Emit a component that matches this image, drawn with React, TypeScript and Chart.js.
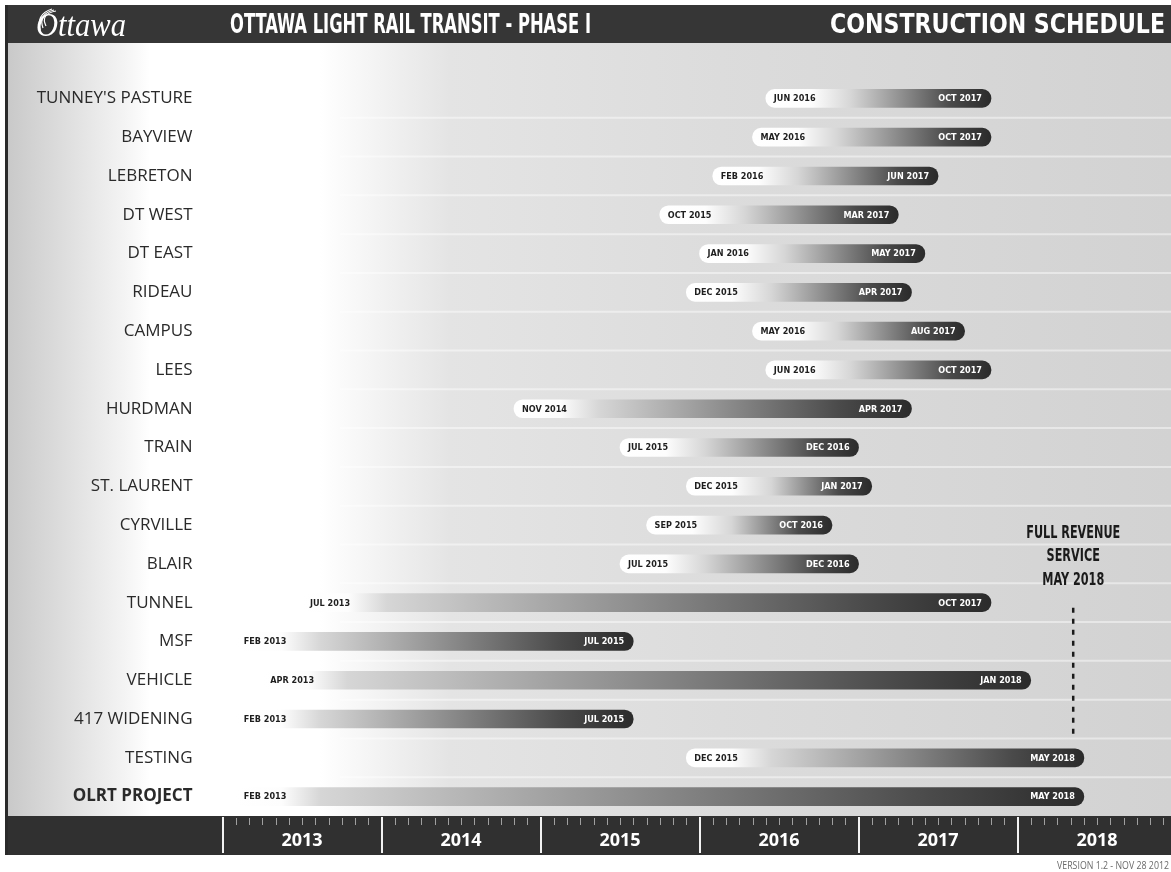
import React, { useEffect, useRef } from "react";
import { Chart, registerables } from "chart.js";

Chart.register(...registerables);

const CATEGORIES = [
  "TUNNEY'S PASTURE", "BAYVIEW", "LEBRETON", "DT WEST", "DT EAST", "RIDEAU", "CAMPUS", "LEES",
  "HURDMAN", "TRAIN", "ST. LAURENT", "CYRVILLE", "BLAIR", "TUNNEL", "MSF", "VEHICLE",
  "417 WIDENING", "TESTING", "OLRT PROJECT",
];
const START_LABELS = [
  "JUN 2016", "MAY 2016", "FEB 2016", "OCT 2015", "JAN 2016", "DEC 2015", "MAY 2016", "JUN 2016",
  "NOV 2014", "JUL 2015", "DEC 2015", "SEP 2015", "JUL 2015", "JUL 2013", "FEB 2013", "APR 2013",
  "FEB 2013", "DEC 2015", "FEB 2013",
];
const END_LABELS = [
  "OCT 2017", "OCT 2017", "JUN 2017", "MAR 2017", "MAY 2017", "APR 2017", "AUG 2017", "OCT 2017",
  "APR 2017", "DEC 2016", "JAN 2017", "OCT 2016", "DEC 2016", "OCT 2017", "JUL 2015", "JAN 2018",
  "JUL 2015", "MAY 2018", "MAY 2018",
];
// start of start month / end of end month, in decimal years
const START_VALUES = [
  2016.417, 2016.333, 2016.083, 2015.75, 2016.0, 2015.917, 2016.333, 2016.417,
  2014.833, 2015.5, 2015.917, 2015.667, 2015.5, 2013.5, 2013.083, 2013.25,
  2013.083, 2015.917, 2013.083,
];
const END_VALUES = [
  2017.833, 2017.833, 2017.5, 2017.25, 2017.417, 2017.333, 2017.667, 2017.833,
  2017.333, 2017.0, 2017.083, 2016.833, 2017.0, 2017.833, 2015.583, 2018.083,
  2015.583, 2018.417, 2018.417,
];
const YEARS = [2013, 2014, 2015, 2016, 2017, 2018];
const X_MIN = 2013;
const X_MAX = 2018.965;
const MILESTONE_VALUE = 2018.35;
const MILESTONE_LINES = ["FULL REVENUE", "SERVICE", "MAY 2018"];
const LOGO_TEXT = "Ottawa";
const TITLE_LEFT = "OTTAWA LIGHT RAIL TRANSIT - PHASE I";
const TITLE_RIGHT = "CONSTRUCTION SCHEDULE";
const VERSION_TEXT = "VERSION 1.2 - NOV 28 2012";

const NARROW = '"Liberation Sans Narrow", "Arial Narrow", "DejaVu Sans Condensed", sans-serif';

function fitText(ctx: CanvasRenderingContext2D, text: string, x: number, y: number, width: number, align: CanvasTextAlign) {
  const w = ctx.measureText(text).width || 1;
  const s = width / w;
  ctx.save();
  ctx.translate(x, y);
  ctx.scale(s, 1);
  ctx.textAlign = align;
  ctx.fillText(text, 0, 0);
  ctx.restore();
}

const decorPlugin = {
  id: "decor",
  beforeDraw(chart: any) {
    const { ctx, width, height, chartArea: ca, scales } = chart;
    const xs = scales.x;
    ctx.save();
    ctx.fillStyle = "#ffffff";
    ctx.fillRect(0, 0, width, height);

    // body background
    const top = 43;
    const g = ctx.createLinearGradient(5, 0, width, 0);
    const stop = (px: number, c: string) => g.addColorStop(Math.min(1, Math.max(0, (px - 5) / (width - 5))), c);
    stop(5, "#c8c8c8");
    stop(60, "#dcdcdc");
    stop(125, "#f4f4f4");
    stop(150, "#ffffff");
    stop(320, "#ffffff");
    stop(450, "#e4e4e4");
    stop(720, "#dcdcdc");
    stop(width, "#d2d2d2");
    ctx.fillStyle = g;
    ctx.fillRect(5, top, width - 5, ca.bottom - top);

    // faint row separators
    const n = CATEGORIES.length;
    const band = (ca.bottom - ca.top) / n;
    ctx.strokeStyle = "rgba(255,255,255,0.45)";
    ctx.lineWidth = 2;
    for (let i = 1; i < n; i++) {
      const y = ca.top + i * band;
      ctx.beginPath();
      ctx.moveTo(340, y);
      ctx.lineTo(width, y);
      ctx.stroke();
    }

    // header band
    ctx.fillStyle = "#363636";
    ctx.fillRect(5, 5, width - 5, 38);

    // footer band
    const fTop = ca.bottom;
    const fH = 39;
    ctx.fillStyle = "#303030";
    ctx.fillRect(5, fTop, width - 5, fH);

    // left frame
    ctx.fillStyle = "#2a2a2a";
    ctx.fillRect(5, 5, 3, fTop + fH - 5);

    // month ticks
    ctx.strokeStyle = "rgba(235,235,235,0.6)";
    ctx.lineWidth = 1;
    YEARS.forEach((yr) => {
      for (let m = 1; m < 12; m++) {
        const x = Math.round(xs.getPixelForValue(yr + m / 12)) + 0.5;
        if (x > width) continue;
        ctx.beginPath();
        ctx.moveTo(x, fTop + 2);
        ctx.lineTo(x, fTop + 9);
        ctx.stroke();
      }
    });
    // year separators
    ctx.strokeStyle = "#f2f2f2";
    ctx.lineWidth = 2;
    YEARS.forEach((yr) => {
      const x = Math.round(xs.getPixelForValue(yr));
      ctx.beginPath();
      ctx.moveTo(x, fTop + 1);
      ctx.lineTo(x, fTop + fH - 2);
      ctx.stroke();
    });
    ctx.restore();
  },
  afterDatasetsDraw(chart: any) {
    const { ctx, scales } = chart;
    const meta = chart.getDatasetMeta(0);
    ctx.save();
    ctx.textBaseline = "middle";
    ctx.font = `bold 9px ${NARROW}`;
    meta.data.forEach((bar: any, i: number) => {
      const p = bar.getProps(["x", "base", "y"], true);
      const left = Math.min(p.x, p.base);
      const right = Math.max(p.x, p.base);
      ctx.fillStyle = "#1e1e1e";
      ctx.textAlign = "left";
      ctx.fillText(START_LABELS[i], left + 8, p.y + 0.5);
      ctx.fillStyle = "#ffffff";
      ctx.textAlign = "right";
      ctx.fillText(END_LABELS[i], right - 9, p.y + 0.5);
    });

    // milestone
    const xs = scales.x;
    const ys = scales.y;
    const mx = xs.getPixelForValue(MILESTONE_VALUE);
    const ty = ys.getPixelForValue(13);
    const by = ys.getPixelForValue(17);
    ctx.fillStyle = "#1a1a1a";
    ctx.textBaseline = "middle";
    ctx.font = `bold 17px ${NARROW}`;
    const w0 = ctx.measureText(MILESTONE_LINES[0]).width || 1;
    const sc = 94 / w0;
    const offs = [-69, -46, -22];
    MILESTONE_LINES.forEach((t, k) => {
      const w = ctx.measureText(t).width * sc;
      fitText(ctx, t, mx, ty + offs[k], w, "center");
    });
    ctx.strokeStyle = "#1a1a1a";
    ctx.lineWidth = 2.5;
    ctx.setLineDash([5, 6]);
    ctx.beginPath();
    ctx.moveTo(mx, ty + 5);
    ctx.lineTo(mx, by - 21);
    ctx.stroke();
    ctx.setLineDash([]);
    ctx.restore();
  },
  afterDraw(chart: any) {
    const { ctx, width, chartArea: ca } = chart;
    ctx.save();
    ctx.fillStyle = "#ffffff";
    ctx.textBaseline = "alphabetic";
    // logo
    ctx.font = 'italic 33px "Liberation Serif", "DejaVu Serif", serif';
    fitText(ctx, LOGO_TEXT, 36, 36, 90, "left");
    ctx.strokeStyle = "#ffffff";
    ctx.lineWidth = 1.2;
    for (let k = 0; k < 3; k++) {
      ctx.beginPath();
      ctx.moveTo(40 + k * 3, 30 - k * 2);
      ctx.quadraticCurveTo(36 + k * 2, 14, 52 + k * 2, 9 + k);
      ctx.stroke();
    }
    // titles
    ctx.font = `bold 26px ${NARROW}`;
    fitText(ctx, TITLE_LEFT, 230, 33, 361, "left");
    fitText(ctx, TITLE_RIGHT, 1165, 33, 335, "right");
    // version
    ctx.fillStyle = "#6a6a6a";
    ctx.font = '10px "Open Sans", sans-serif';
    fitText(ctx, VERSION_TEXT, width - 2, ca.bottom + 53, 112, "right");
    ctx.restore();
  },
};

export default function App() {
  const ref = useRef<HTMLCanvasElement | null>(null);
  useEffect(() => {
    document.body.style.margin = "0";
    const canvas = ref.current;
    if (!canvas) return;
    const barData = START_VALUES.map((s, i) => [s, END_VALUES[i]]);
    const chart = new Chart(canvas, {
      type: "bar",
      data: {
        labels: CATEGORIES,
        datasets: [
          {
            data: barData as any,
            barThickness: 18,
            borderRadius: 9,
            borderSkipped: false,
            backgroundColor: (c: any) => {
              const ch = c.chart;
              const xs = ch.scales && ch.scales.x;
              if (!xs || c.dataIndex == null) return "#888";
              const s = xs.getPixelForValue(START_VALUES[c.dataIndex]);
              const e = xs.getPixelForValue(END_VALUES[c.dataIndex]);
              if (!isFinite(s) || !isFinite(e)) return "#888";
              const len = Math.max(1, e - s);
              const g = ch.ctx.createLinearGradient(s, 0, e, 0);
              const f = (px: number) => Math.min(0.7, px / len);
              g.addColorStop(0, "#ffffff");
              g.addColorStop(f(46), "#fdfdfd");
              g.addColorStop(f(85), "#d6d6d6");
              g.addColorStop(0.82, "#4a4a4a");
              g.addColorStop(1, "#2b2b2b");
              return g;
            },
          },
        ],
      },
      options: {
        indexAxis: "y",
        responsive: false,
        animation: false,
        devicePixelRatio: 1,
        layout: { padding: { top: 79, left: 5, right: 0, bottom: 6.4 } },
        plugins: { legend: { display: false }, tooltip: { enabled: false }, title: { display: false } },
        scales: {
          x: {
            type: "linear",
            position: "bottom",
            min: X_MIN,
            max: X_MAX,
            grid: { display: false, drawTicks: false },
            border: { display: false },
            afterBuildTicks: (scale: any) => {
              scale.ticks = YEARS.map((y) => ({ value: y + 0.5 }));
            },
            ticks: {
              padding: 14,
              color: "#ffffff",
              font: { family: '"Open Sans", sans-serif', size: 18, weight: "bold" },
              callback: (v: any) => String(Math.floor(Number(v))),
              maxRotation: 0,
              autoSkip: false,
            },
          },
          y: {
            type: "category",
            position: "left",
            grid: { display: false, drawTicks: false },
            border: { display: false },
            afterFit: (scale: any) => {
              scale.width = 217.5;
            },
            ticks: {
              padding: 30,
              color: "#2a2a2a",
              autoSkip: false,
              font: (c: any) => ({
                family: '"Open Sans", sans-serif',
                size: 17,
                weight: c.index === CATEGORIES.length - 1 ? "bold" : "normal",
              }),
            },
          },
        },
      },
      plugins: [decorPlugin],
    });
    return () => chart.destroy();
  }, []);
  return <canvas ref={ref} width={1171} height={872} style={{ display: "block", width: 1171, height: 872 }} />;
}
